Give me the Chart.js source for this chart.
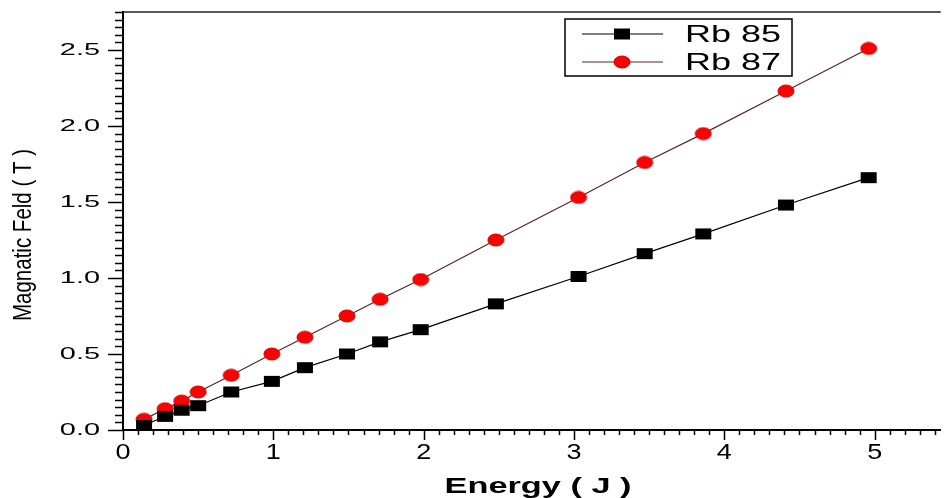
<!DOCTYPE html>
<html>
<head>
<meta charset="utf-8">
<script src="https://cdn.jsdelivr.net/npm/chart.js@4/dist/chart.umd.min.js"></script>
<style>
  html, body { margin: 0; padding: 0; background: #fff; overflow: hidden; }
  #wrap { width: 946px; height: 498px; position: relative; }
</style>
</head>
<body>
<div id="wrap"><canvas id="myChart"></canvas></div>
<script>
// energies (J)
var energy = [0.14, 0.28, 0.39, 0.50, 0.72, 0.99, 1.21, 1.49, 1.71, 1.98, 2.48, 3.03, 3.47, 3.86, 4.41, 4.96];
// magnetic field (T)
var rb85 = [0.03, 0.09, 0.13, 0.16, 0.25, 0.32, 0.41, 0.50, 0.58, 0.66, 0.83, 1.01, 1.16, 1.29, 1.48, 1.66];
var rb87 = [0.07, 0.14, 0.19, 0.25, 0.36, 0.50, 0.61, 0.75, 0.86, 0.99, 1.25, 1.53, 1.76, 1.95, 2.23, 2.51];
var seriesNames = ['Rb 85', 'Rb 87'];
var xTicks = [0, 1, 2, 3, 4, 5];
var yTicks = [0, 0.5, 1.0, 1.5, 2.0, 2.5];
var xTitle = 'Energy ( J )';
var yTitle = 'Magnatic Feld ( T )';

function toPoints(xs, ys) {
  return xs.map(function (x, i) { return { x: x, y: ys[i] }; });
}

// small marker images (the original ones are a little wider than tall)
function makeMarker(w, h, kind, fill, edge) {
  var c = document.createElement('canvas');
  c.width = w + 2; c.height = h + 2;
  var g = c.getContext('2d');
  g.fillStyle = fill;
  g.strokeStyle = edge;
  g.lineWidth = 1;
  if (kind === 'rect') {
    g.fillRect(1, 1, w, h);
  } else {
    g.beginPath();
    g.ellipse(c.width / 2, c.height / 2, w / 2, h / 2, 0, 0, Math.PI * 2);
    g.fill();
    g.stroke();
  }
  return c;
}
var squareMark = makeMarker(16, 11, 'rect', '#000', '#000');
var circleMark = makeMarker(16, 12, 'circle', '#ff0000', '#c80000');
var line87 = '#5a2424';

function stretchText(ctx, text, x, y, font, sx, align, baseline) {
  ctx.save();
  ctx.font = font;
  ctx.translate(x, y);
  ctx.scale(sx, 1);
  ctx.textAlign = align;
  ctx.textBaseline = baseline || 'alphabetic';
  ctx.fillStyle = '#000';
  ctx.fillText(text, 0, 0);
  ctx.restore();
}

var decor = {
  id: 'decor',
  afterDraw: function (chart) {
    var ctx = chart.ctx;
    var a = chart.chartArea;
    var xs = chart.scales.x, ys = chart.scales.y;
    ctx.save();
    ctx.strokeStyle = '#000';

    // top frame line
    ctx.lineWidth = 1.5;
    ctx.strokeStyle = '#222';
    ctx.beginPath();
    ctx.moveTo(a.left, a.top);
    ctx.lineTo(a.right, a.top);
    ctx.stroke();

    // y ticks: major every 0.5, minor every 0.05
    ctx.strokeStyle = '#000';
    ctx.lineWidth = 1.5;
    for (var v = 0; v <= ys.max + 1e-6; v += 0.05) {
      var py = Math.round(ys.getPixelForValue(v)) + 0.5;
      var major = Math.abs(v / 0.5 - Math.round(v / 0.5)) < 1e-6;
      ctx.beginPath();
      ctx.moveTo(a.left, py);
      ctx.lineTo(a.left - (major ? 15 : 8), py);
      ctx.stroke();
    }
    // x ticks: major every 1, minor every 0.1
    for (var u = 0; u <= xs.max + 1e-6; u += 0.1) {
      var px = Math.round(xs.getPixelForValue(u)) + 0.5;
      var maj = Math.abs(u - Math.round(u)) < 1e-6;
      ctx.beginPath();
      ctx.moveTo(px, a.bottom);
      ctx.lineTo(px, a.bottom + (maj ? 10 : 5));
      ctx.stroke();
    }
    ctx.restore();

    // tick labels
    yTicks.forEach(function (t) {
      stretchText(ctx, t.toFixed(1), a.left - 23, ys.getPixelForValue(t) + 5,
        '17px "Liberation Sans", Arial, sans-serif', 1.7, 'right');
    });
    xTicks.forEach(function (t) {
      stretchText(ctx, String(t), xs.getPixelForValue(t), a.bottom + 29,
        '22px "Liberation Sans", Arial, sans-serif', 1.23, 'center');
    });

    // axis titles
    stretchText(ctx, xTitle, 538, a.bottom + 63,
      'bold 22px "Liberation Sans", Arial, sans-serif', 1.56, 'center');
    ctx.save();
    ctx.translate(31, 235);
    ctx.rotate(-Math.PI / 2);
    ctx.scale(0.82, 1);
    ctx.font = '25px "Liberation Sans", Arial, sans-serif';
    ctx.textAlign = 'center';
    ctx.fillStyle = '#000';
    ctx.fillText(yTitle, 0, 0);
    ctx.restore();

    // legend box
    var lx = a.left + 442, ly = a.top + 7;
    ctx.save();
    ctx.strokeStyle = '#000';
    ctx.lineWidth = 1.5;
    ctx.strokeRect(lx, ly, 227, 57);
    var rows = [
      { name: seriesNames[0], color: '#000', mark: squareMark, y: ly + 15 },
      { name: seriesNames[1], color: line87, mark: circleMark, y: ly + 43 }
    ];
    rows.forEach(function (r) {
      ctx.strokeStyle = r.color;
      ctx.lineWidth = 1.2;
      ctx.beginPath();
      ctx.moveTo(lx + 17, r.y);
      ctx.lineTo(lx + 98, r.y);
      ctx.stroke();
      ctx.drawImage(r.mark, lx + 57 - r.mark.width / 2, r.y - r.mark.height / 2);
      stretchText(ctx, r.name, lx + 120, r.y + 8,
        '24px "Liberation Sans", Arial, sans-serif', 1.5, 'left');
    });
    ctx.restore();
  }
};

var ctx = document.getElementById('myChart').getContext('2d');

var graphData = {
  type: 'line',
  data: {
    datasets: [{
      label: seriesNames[0],
      data: toPoints(energy, rb85),
      borderColor: '#000',
      borderWidth: 1.2,
      pointStyle: squareMark,
      clip: false
    }, {
      label: seriesNames[1],
      data: toPoints(energy, rb87),
      borderColor: line87,
      borderWidth: 1.2,
      pointStyle: circleMark,
      clip: false
    }]
  },
  options: {
    responsive: true,
    maintainAspectRatio: false,
    animation: false,
    layout: { padding: { top: 12, right: 0, left: 0, bottom: 0 } },
    plugins: { legend: { display: false }, tooltip: { enabled: false } },
    scales: {
      x: {
        type: 'linear',
        min: 0,
        max: 5.44,
        grid: { display: false },
        border: { display: true, color: '#000', width: 2 },
        ticks: { display: false },
        afterFit: function (s) { s.height = 68; }
      },
      y: {
        min: 0,
        max: 2.75,
        grid: { display: false },
        border: { display: true, color: '#000', width: 2 },
        ticks: { display: false },
        afterFit: function (s) { s.width = 123; }
      }
    }
  },
  plugins: [decor]
};

var myChart = new Chart(ctx, graphData);
</script>
</body>
</html>
